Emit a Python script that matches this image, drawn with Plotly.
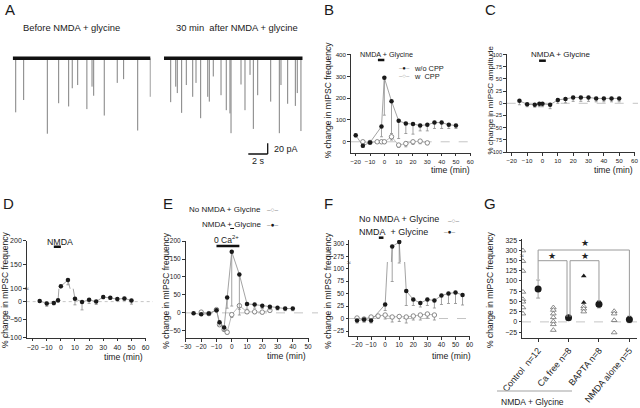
import plotly.graph_objects as go

FONT = "Liberation Sans, Arial, Helvetica, sans-serif"
W, H = 640, 408
INK = "#1a1a1a"
GRAY = "#8c8c8c"
OPEN_EDGE = "#6e6e6e"

# ---------------- data ----------------
# Panel A: event times (s) and amplitudes (pA) of mIPSCs in the two sweeps
a_before_time = [0.31, 1.13, 3.57, 4.74, 5.77, 6.14, 6.70, 7.65, 8.18, 8.35, 9.44, 10.78, 11.44, 12.89, 14.19]
a_before_amp = [101, 78, 141, 84, 90, 56, 50, 95, 53, 70, 107, 46, 39, 135, 72]
a_after_time = [0.69, 1.21, 1.37, 1.82, 2.30, 2.96, 3.30, 3.78, 4.51, 4.67, 5.08, 5.88, 6.42, 6.80,
                6.91, 7.94, 8.35, 8.87, 9.21, 9.66, 11.0, 11.89, 12.06, 12.75, 13.54, 13.74, 14.12]
a_after_amp = [82, 53, 65, 102, 50, 72, 46, 112, 72, 81, 34, 69, 97, 103,
               140, 49, 97, 31, 132, 69, 81, 140, 50, 85, 89, 65, 136]
a_sweep_len = [14.2, 14.3]
a_scale_s, a_scale_pa = 2, 20

# Panel B
b_time_ctl = [-20, -15, -10, -2, 0, 5, 10, 15, 20, 25, 30, 35, 40, 45, 50]
b_ctl = [30, -18, -3, 70, 293, 186, 96, 84, 81, 75, 78, 88, 88, 78, 75]
b_ctl_err = [8, 8, 5, 47, 171, 148, 81, 46, 46, 25, 28, 27, 27, 17, 14]
b_time_cpp = [-15, -10, -5, -2, 0, 5, 10, 15, 20, 25, 30]
b_cpp = [0, -3, 0, 0, 0, 23, -15, -8, 0, 3, -5]
b_cpp_err = [5, 5, 5, 5, 8, 15, 10, 15, 12, 12, 8]

# Panel C
c_time = [-15, -10, -5, -2, 0, 5, 10, 15, 20, 25, 30, 35, 40, 45, 50]
c_amp = [5, -2, -3, -1, -1, -3, 7, 9, 12, 12, 12, 10, 10, 10, 10]
c_err = [8, 5, 5, 6, 6, 8, 7, 8, 8, 8, 8, 7, 7, 7, 7]

# Panel D
d_time = [-15, -10, -5, -2, 0, 5, 10, 15, 20, 25, 30, 35, 40, 45, 50]
d_freq = [2, -5, -4, 4, 105, 118, 8, -1, 5, 0, 13, 11, 7, 9, 3]
d_err = [4, 8, 5, 6, 10, 10, 17, 22, 10, 8, 5, 5, 5, 5, 10]

# Panel E
e_time_ctl = [-20, -15, -10, -8, -5, -3, 0, 5, 10, 15, 20, 25]
e_ctl = [2, -2, 9, -33, -46, -54, -5, 20, 3, 3, 2, 7]
e_ctl_err = [3, 3, 3, 5, 5, 5, 8, 10, 5, 5, 5, 5]
e_time_ng = [-25, -20, -15, -10, -8, -5, -3, 0, 5, 10, 15, 20, 25, 30, 35, 40]
e_ng = [-1, -4, -2, 7, -26, -41, 43, 170, 107, 25, 23, 20, 17, 14, 12, 12]
e_ng_err = [3, 3, 3, 5, 8, 8, 30, 151, 113, 15, 10, 8, 8, 6, 6, 6]

# Panel F
f_time_ctl = [-20, -15, -10, -5, 0, 5, 10, 15, 20, 25, 30, 35]
f_ctl = [1, -1, 3, 5, 7, 3, 4, 3, 5, 7, 9, 7]
f_ctl_err = [5, 6, 5, 5, 8, 10, 10, 12, 8, 10, 8, 10]
f_time_ng = [-20, -15, -10, 0, 5, 10, 15, 20, 25, 30, 35, 40, 45, 50, 55]
f_ng = [-4, -2, -4, 28, 295, 304, 55, 38, 31, 38, 36, 46, 50, 52, 47]
f_ng_err = [5, 5, 5, 12, 221, 193, 29, 12, 8, 12, 15, 18, 20, 22, 20]

# Panel G
g_groups = ["Control  n=12", "Ca free n=8", "BAPTA n=8", "NMDA alone n=5"]
g_control = [300, 148, 124, 73, 55, 49, 35, 20]
g_cafree = [35, 29, 20, 11, 1, -6, -20]
g_bapta_open = [38, 32, 25]
g_bapta_filled = [112, 47]
g_nmda = [26, 20, 4, -26]
g_mean = [80, 10, 43, 6]
g_sem = [22, 4, 9, 8]


# ---------------- helpers ----------------
def xd(a, b):
    return [a / W, b / W]


def yd(top, bottom):
    return [1 - bottom / H, 1 - top / H]


def px(x):
    return x / W


def py(y):
    return 1 - y / H


fig = go.Figure()


def series(x, y, xa, yas, filled, err=None, size=4.5, symbol="circle", mode="lines+markers",
           sym_err=False, lcolor=GRAY):
    for ya in yas:
        marker = (dict(symbol=symbol, size=size, color=INK, line=dict(width=0)) if filled
                  else dict(symbol=symbol, size=size, color="white", line=dict(width=0.8, color=OPEN_EDGE)))
        kw = {}
        if err is not None:
            if sym_err:
                kw["error_y"] = dict(type="data", array=err, color=GRAY, thickness=0.8, width=2)
            else:
                kw["error_y"] = dict(type="data", symmetric=False, array=[0] * len(err), arrayminus=err,
                                     color=GRAY, thickness=0.8, width=1.5)
        fig.add_trace(go.Scatter(x=x, y=y, xaxis=xa, yaxis=ya, mode=mode, marker=marker,
                                 line=dict(color=lcolor, width=0.8), showlegend=False,
                                 hoverinfo="skip", **kw))


# ---------------- Panel A traces ----------------
for i, (times, amps) in enumerate([(a_before_time, a_before_amp), (a_after_time, a_after_amp)]):
    xa = "x" if i == 0 else "x2"
    ya = "y" if i == 0 else "y2"
    sx, sy = [], []
    for t, a in zip(times, amps):
        sx += [t, t, None]
        sy += [0, -a, None]
    fig.add_trace(go.Scatter(x=sx, y=sy, xaxis=xa, yaxis=ya, mode="lines",
                             line=dict(color="#808080", width=1), showlegend=False, hoverinfo="skip"))
    fig.add_trace(go.Scatter(x=[0, a_sweep_len[i]], y=[0, 0], xaxis=xa, yaxis=ya, mode="lines",
                             line=dict(color="#111", width=3.5), showlegend=False, hoverinfo="skip"))

# ---------------- Panel B ----------------
series(b_time_cpp, b_cpp, "x3", ["y3"], False, b_cpp_err, lcolor="#b0b0b0")
series(b_time_ctl, b_ctl, "x3", ["y3"], True, b_ctl_err)
# ---------------- Panel C ----------------
series(c_time, c_amp, "x4", ["y4"], True, c_err)
# ---------------- Panel D (broken axis) ----------------
series(d_time, d_freq, "x5", ["y5", "y6"], True, d_err)
# ---------------- Panel E ----------------
series(e_time_ctl, e_ctl, "x6", ["y7"], False, e_ctl_err, lcolor="#a8a8a8")
series(e_time_ng, e_ng, "x6", ["y7"], True, e_ng_err)
# ---------------- Panel F (broken axis) ----------------
series(f_time_ctl, f_ctl, "x7", ["y8"], False, f_ctl_err, lcolor="#a8a8a8")
series(f_time_ng, f_ng, "x7", ["y8", "y9"], True, f_ng_err)
# ---------------- Panel G (broken axis) ----------------
for gi, vals in enumerate([g_control, g_cafree, g_bapta_open, g_nmda]):
    series([gi - 0.25] * len(vals), vals, "x8", ["y10", "y11"], False, size=5,
           symbol="triangle-up", mode="markers")
series([2 - 0.25] * len(g_bapta_filled), g_bapta_filled, "x8", ["y10"], True, size=5,
       symbol="triangle-up", mode="markers")
series([i + 0.25 for i in range(len(g_mean))], g_mean, "x8", ["y10"], True, g_sem, size=7,
       mode="markers", sym_err=True)


# ---------------- axes ----------------
def AX(fs):
    return dict(showline=True, linecolor="#333", linewidth=1, ticks="outside", ticklen=2.5, tickwidth=1,
                tickcolor="#333", showgrid=False, zeroline=False, automargin=False,
                tickfont=dict(size=fs, color="#222", family=FONT))


HID = dict(visible=False, showgrid=False, zeroline=False, automargin=False)

fig.update_layout(
    xaxis=dict(HID, domain=xd(12.7, 150.7), range=[0, 14.23], anchor="y"),
    yaxis=dict(HID, domain=yd(50, 170), range=[-208.8, 15.5], anchor="x"),
    xaxis2=dict(HID, domain=xd(164, 302.7), range=[0, 14.3], anchor="y2"),
    yaxis2=dict(HID, domain=yd(50, 170), range=[-208.8, 15.5], anchor="x2"),
    xaxis3=dict(AX(6.2), domain=xd(350.7, 470.7), range=[-23.5, 60.3], dtick=10, tick0=0, anchor="y3"),
    yaxis3=dict(AX(6.2), domain=yd(54.3, 152.7), range=[-50, 401], dtick=100, tick0=0, anchor="x3"),
    xaxis4=dict(AX(6.2), domain=xd(506.7, 635), range=[-23.3, 60.3], dtick=10, tick0=0, anchor="y4"),
    yaxis4=dict(AX(5.6), domain=yd(54.3, 152.3), range=[-100.5, 100.5], dtick=25, tick0=0, anchor="x4"),
    xaxis5=dict(AX(7), domain=xd(26.7, 146), range=[-24.2, 60.3], dtick=10, tick0=0, anchor="y5"),
    yaxis5=dict(AX(7), domain=yd(288.7, 337.7), range=[-100.5, 36], tickvals=[-100, -50, 0], anchor="x5"),
    yaxis6=dict(AX(7), domain=yd(240.7, 288.7), range=[99.8, 200.5], tickvals=[100, 150, 200], anchor="x5"),
    xaxis6=dict(AX(6.5), domain=xd(185.5, 308.5), range=[-30.3, 50.3], dtick=10, tick0=0, anchor="y7"),
    yaxis7=dict(AX(6.5), domain=yd(240.7, 338), range=[-70, 201], tickvals=[-50, 0, 50, 100, 150, 200],
                anchor="x6"),
    xaxis7=dict(AX(6.5), domain=xd(349, 470), range=[-25.7, 60.3], dtick=10, tick0=0, anchor="y8"),
    yaxis8=dict(AX(6.5), domain=yd(262, 336), range=[-35, 113], tickvals=[-25, 0, 25, 50, 75, 100],
                anchor="x7"),
    yaxis9=dict(AX(6.5), domain=yd(240, 262), range=[264, 308], tickvals=[275, 300], anchor="x7"),
    xaxis8=dict(AX(9), domain=xd(522, 637), range=[-0.28, 3.5], tickvals=[i + 0.25 for i in range(4)],
                ticktext=g_groups, tickangle=-50, anchor="y10"),
    yaxis10=dict(AX(7), domain=yd(255, 338.3), range=[-40, 163],
                 tickvals=[-25, 0, 25, 50, 75, 100, 125, 150], anchor="x8"),
    yaxis11=dict(AX(7), domain=yd(238.5, 255), range=[289, 330], tickvals=[300, 325], anchor="x8"),
)

# ---------------- shapes ----------------
shapes = []


def hline_paper(x0, x1, y, yref, dash="dash", color="#b5b5b5", width=0.8):
    shapes.append(dict(type="line", xref="paper", x0=px(x0), x1=px(x1), yref=yref, y0=y, y1=y,
                       line=dict(color=color, width=width, dash=dash), layer="below"))


hline_paper(350.7, 471.7, 0, "y3")
hline_paper(506.7, 638, 0, "y4")
hline_paper(26.7, 153, 0, "y5", dash="dot")
hline_paper(186, 318, 0, "y7")
hline_paper(349, 470, 0, "y8")
hline_paper(522, 637, 0, "y10")


def bar(xref, x0, x1, ypx, width=2.5):
    shapes.append(dict(type="line", xref=xref, x0=x0, x1=x1, yref="paper", y0=py(ypx), y1=py(ypx),
                       line=dict(color="#111", width=width)))


bar("x3", -4.5, 0, 60)
bar("x4", -2.2, 2.2, 60.7)
bar("x5", -5, 0, 246.7)
bar("x6", -10, 5, 246)
bar("x6", -1, 1.5, 228.5, width=1.2)
bar("x7", -4.5, -1.2, 237.7)

# Panel A scale bar (right sweep coordinates)
shapes.append(dict(type="line", xref="x2", yref="y2", x0=8.69, x1=8.69 + a_scale_s, y0=-178.9, y1=-178.9,
                   line=dict(color="#111", width=1.3)))
shapes.append(dict(type="line", xref="x2", yref="y2", x0=8.69 + a_scale_s, x1=8.69 + a_scale_s,
                   y0=-178.9, y1=-178.9 + a_scale_pa, line=dict(color="#111", width=1.3)))

# Panel G significance brackets
BR = dict(color="#9a9a9a", width=1)


def seg(x0, y0, x1, y1):
    shapes.append(dict(type="line", xref="x8", yref="paper", x0=x0, x1=x1, y0=py(y0), y1=py(y1), line=BR))


seg(0.25, 250, 0.25, 279.3)
seg(0.25, 260.7, 1.2, 260.7)
seg(1.2, 260.7, 1.2, 316.7)
seg(1.3, 260.7, 2.25, 260.7)
seg(1.3, 260.7, 1.3, 316.7)
seg(2.25, 260.7, 2.25, 301.7)
seg(0.25, 250, 3.25, 250)
seg(3.25, 250, 3.25, 316.7)
# NMDA + Glycine grouping line
shapes.append(dict(type="line", xref="paper", yref="paper", x0=px(497), x1=px(572), y0=py(391), y1=py(391),
                   line=dict(color="#c0c0c0", width=1.5)))

fig.update_layout(shapes=shapes)

# ---------------- annotations ----------------
ann = []


def text(x, y, s, size=8.5, xanchor="center", angle=0, color=INK):
    ann.append(dict(x=px(x), y=py(y), xref="paper", yref="paper", text=s, showarrow=False,
                    xanchor=xanchor, yanchor="middle", textangle=angle,
                    font=dict(size=size, color=color, family=FONT)))


for letter, lx, ly in [("A", 10, 9), ("B", 329.3, 9), ("C", 490, 9), ("D", 8.3, 203.3),
                       ("E", 168.3, 203.3), ("F", 328.3, 203.3), ("G", 490, 203.3)]:
    text(lx, ly, letter, size=15)

text(71, 27.3, "Before NMDA + glycine", size=9.4)
text(236.7, 27.3, "30 min\u00a0 after NMDA + glycine", size=9.4)
text(272, 148.5, "20 pA", size=9, xanchor="left")
text(258.3, 161, "2 s", size=9)

YT = "% change in mIPSC frequency"
text(328.3, 100, YT, size=8.5, angle=-90)
text(489.5, 100, "% change in mIPSC amplitude", size=8, angle=-90)
text(5, 290, YT, size=8.5, angle=-90)
text(165.7, 290, YT, size=8.5, angle=-90)
text(327.7, 290, YT, size=8.5, angle=-90)
text(490, 290, YT, size=8.5, angle=-90)

for tx, ty in [(450, 169.5), (613.3, 169.5), (123.3, 356.5), (286, 356), (451.7, 356)]:
    text(tx, ty, "time (min)", size=8.7)

text(386.2, 55, "NMDA + Glycine", size=7.2)
text(560.3, 55, "NMDA + Glycine", size=8)
text(59.7, 241.7, "NMDA", size=8.8)
text(226, 239.5, "0 Ca<sup>2+</sup>", size=8.5)

OPEN_SYM = "<span style='color:#8c8c8c'>–○–</span>"
FILL_SYM = "<span style='color:#8c8c8c'>–</span>●<span style='color:#8c8c8c'>–</span>"
# B legend
text(404.5, 68.3, FILL_SYM, size=6)
text(411.7, 68.3, "w/o CPP", size=7.4, xanchor="left")
text(404.5, 76.3, OPEN_SYM, size=6)
text(411.7, 76.3, "w\u00a0 CPP", size=7.4, xanchor="left")
# E legend
text(262.7, 210, "No NMDA + Glycine", size=8, xanchor="right")
text(272.5, 210, OPEN_SYM, size=6.5)
text(263.3, 224.3, "NMDA + Glycine", size=8, xanchor="right")
text(273, 224.3, FILL_SYM, size=6.5)
# F legend
text(356.7, 219.3, "No NMDA + Glycine", size=9, xanchor="left")
text(454.3, 220.3, OPEN_SYM, size=6.5)
text(356.7, 231.7, "NMDA\u00a0 + Glycine", size=9, xanchor="left")
text(450, 231.7, FILL_SYM, size=6.5)

# G
text(532.7, 401.7, "NMDA + Glycine", size=8.5)
for sx, sy in [(551.7, 256), (585, 256), (585, 243.3)]:
    text(sx, sy, "★", size=9, color="#222")

# axis break marks
for bx, by in [(26.7, 288.7), (349, 262), (522, 255)]:
    text(bx, by, "≈", size=7, color="#333")

fig.update_layout(annotations=ann)

fig.update_layout(width=W, height=H, margin=dict(l=0, r=0, t=0, b=0, pad=0, autoexpand=False),
                  paper_bgcolor="white", plot_bgcolor="white", showlegend=False,
                  font=dict(family=FONT, color=INK))

fig.write_html("out.html", config={"displayModeBar": False, "staticPlot": True},
               post_script="document.body.style.margin='0px';document.body.style.padding='0px';"
                           "document.documentElement.style.overflow='hidden';")
